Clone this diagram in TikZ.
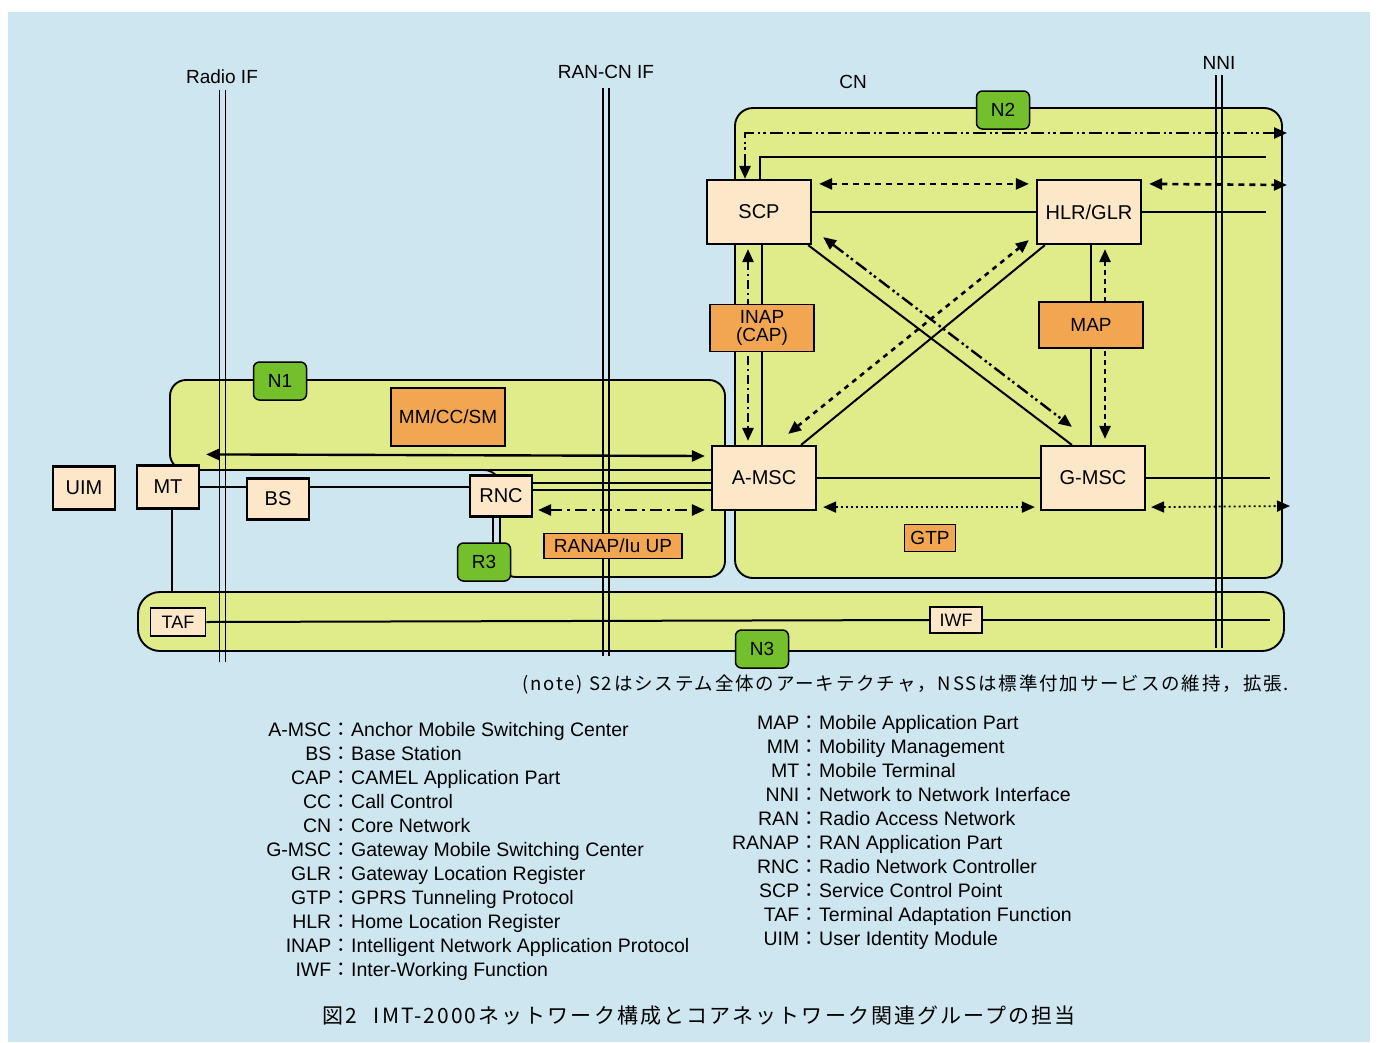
\documentclass[tikz,border=0pt]{standalone}
\usepackage{fontspec}
\setmainfont{Liberation Sans}
\newfontfamily\cjk{Noto Sans CJK JP}
\newfontfamily\cjkwide{Noto Sans CJK JP}[LetterSpace=10]
\usetikzlibrary{arrows.meta,calc}
\pgfdeclarelayer{back}
\pgfdeclarelayer{mid}
\pgfsetlayers{back,mid,main}
\definecolor{bgblue}{HTML}{CDE6F0}
\definecolor{regiong}{HTML}{E0EC8A}
\definecolor{peach}{HTML}{FDE7C9}
\definecolor{orangeb}{HTML}{F2A652}
\definecolor{greenb}{HTML}{74C02C}
\begin{document}
\begin{tikzpicture}[x=1pt,y=-1pt,
 >={Triangle[length=13pt,width=11pt]},
 ent/.style={draw,line width=2.2pt,fill=peach,inner sep=0pt,font=\fontsize{20}{22}\selectfont},
 proto/.style={draw,line width=1.5pt,fill=orangeb,inner sep=0pt,font=\fontsize{19}{18}\selectfont,align=center},
 grp/.style={draw,line width=1.5pt,fill=greenb,rounded corners=6pt,minimum width=53pt,minimum height=38pt,inner sep=0pt,font=\fontsize{19}{21}\selectfont},
 region/.style={draw,line width=1.9pt,fill=regiong,rounded corners=16pt},
 conn/.style={line width=2pt},
 ddot/.style={line width=2.4pt,dash pattern=on 13pt off 4pt on 2.5pt off 3pt on 2.5pt off 4pt},
 dsh/.style={line width=2.6pt,dash pattern=on 6pt off 5pt},
 dotl/.style={line width=1.8pt,dash pattern=on 2pt off 3pt},
 dshdot/.style={line width=2.5pt,dash pattern=on 12pt off 5pt on 3pt off 5pt},
 ifl/.style={line width=1.4pt},
 lbl/.style={font=\fontsize{19}{21}\selectfont,inner sep=0pt},
 leg/.style={font=\fontsize{19.5}{21}\selectfont,inner sep=0pt},
]
\useasboundingbox (0,0) rectangle (1379,1042);

% ---------- nodes ----------
\node[ent,minimum width=104pt,minimum height=64pt] (scp) at (759,212) {SCP};
\node[ent,minimum width=104pt,minimum height=64pt] (hlr) at (1089,212) {HLR/GLR};
\node[ent,minimum width=104pt,minimum height=64pt] (amsc) at (764,478) {A-MSC};
\node[ent,minimum width=104pt,minimum height=64pt] (gmsc) at (1093,478) {G-MSC};
\node[ent,minimum width=62pt,minimum height=43pt] (uim) at (84,488) {UIM};
\node[ent,minimum width=62pt,minimum height=43pt] (mt) at (168,487) {MT};
\node[ent,minimum width=62pt,minimum height=41pt] (bs) at (278,499) {BS};
\node[ent,minimum width=62pt,minimum height=41pt] (rnc) at (501,496) {RNC};
\node[ent,line width=1.7pt,minimum width=55pt,minimum height=28pt,font=\fontsize{18}{20}\selectfont] (taf) at (178,622) {TAF};
\node[ent,line width=1.7pt,minimum width=52pt,minimum height=26pt,font=\fontsize{18}{20}\selectfont] (iwf) at (956,620) {IWF};

\node[proto,minimum width=104pt,minimum height=47pt] (inap) at (762,328) {INAP\\(CAP)};
\node[proto,minimum width=104pt,minimum height=46pt] (map) at (1091,325) {MAP};
\node[proto,minimum width=114pt,minimum height=58pt,line width=2pt] (mmcc) at (448,417) {MM/CC/SM};
\node[proto,minimum width=138pt,minimum height=25pt] (ranap) at (613,546) {RANAP/Iu UP};
\node[proto,minimum width=51pt,minimum height=27pt] (gtp) at (930,538) {GTP};

\node[grp] (n1) at (280,381) {N1};
\node[grp] (n2) at (1003,110) {N2};
\node[grp] (r3) at (484,562) {R3};
\node[grp] (n3) at (762,649) {N3};

% ---------- background and regions ----------
\begin{pgfonlayer}{back}
\fill[white] (0,0) rectangle (1379,1042);
\fill[bgblue] (8,12) rectangle (1370,1042);
\draw[region] (170,470) -- (170,380) -- (725,380) -- (725,577) -- (500,577) -- (500,470) -- cycle;
\draw[region,rounded corners=18pt] (735,108) rectangle (1282,578);
\draw[region,rounded corners=22pt] (138,592) rectangle (1284,651);
\end{pgfonlayer}

% ---------- interface lines, connectors ----------
\begin{pgfonlayer}{mid}
\draw[ifl] (219.5,90) -- (219.5,662);
\draw[ifl] (225.5,90) -- (225.5,662);
\draw[ifl] (603,88) -- (603,656);
\draw[ifl] (609,88) -- (609,656);
\draw[ifl] (1216,75) -- (1216,648);
\draw[ifl] (1222,75) -- (1222,648);

% SCP top links
\coordinate (c1) at (1287,133);
\draw[ddot,<->] ($(scp.north)+(-14,0)$) |- (c1);
\coordinate (c2) at (1266,157);
\draw[conn] ($(scp.north)+(1,0)$) |- (c2);
\draw[dsh,<->] ($(scp.north east)+(7,5)$) -- ($(hlr.north west)+(-7,5)$);
\coordinate (c3) at (1287,185);
\draw[dsh,<->] ($(hlr.north east)+(7,5)$) -- (c3);
\draw[conn] (scp.east) -- (hlr.west);
\coordinate (c4) at (1266,212);
\draw[conn] (hlr.east) -- (c4);

% diagonals
\draw[conn] ($(scp.south east)+(-4,0)$) -- ($(gmsc.north west)+(32,0)$);
\draw[ddot,<->] ($(scp.south east)+(11,-8)$) -- ($(gmsc.north west)+(32,-18)$);
\draw[conn] ($(hlr.south west)+(9,0)$) -- ($(amsc.north east)+(-16,0)$);
\draw[dsh,<->,dash pattern=on 5pt off 5pt] ($(amsc.north east)+(-29,-11)$) -- ($(hlr.south west)+(-7,-5)$);

% verticals
\draw[conn] (map.north) -- (map.north |- hlr.south);
\draw[conn] (map.south) -- (map.south |- gmsc.north);
\draw[dsh,<->,dash pattern=on 5pt off 4pt] ($(hlr.south)+(16,4)$) -- ($(gmsc.north)+(12,-6)$);
\draw[dshdot,<->,dash pattern=on 9pt off 4pt on 2pt off 4pt] ($(scp.south)+(-11,4)$) -- ($(amsc.north)+(-16,-4)$);
\draw[conn] ($(scp.south)+(3,0)$) -- ($(amsc.north)+(-2,0)$);

% MSC links
\draw[conn] (amsc.east) -- (gmsc.west);
\draw[dotl,<->] ($(amsc.south east)+(6,-4)$) -- ($(gmsc.south west)+(-5,-4)$);
\coordinate (c5) at (1270,478);
\draw[conn] (gmsc.east) -- (c5);
\coordinate (c6) at (1290,506);
\draw[dotl,<->] ($(gmsc.south east)+(5,-4)$) -- (c6);

% RAN side
\draw[conn,line width=2.4pt,<->] ($(mt.north east)+(6,-10)$) -- ($(amsc.west)+(-6,-22)$);
\draw[conn] ($(mt.east)+(0,-17)$) -- ($(amsc.west)+(0,-8)$);
\draw[conn] (mt.east) -- (mt.east -| bs.west);
\draw[conn] (bs.east |- mt.east) -- (rnc.west |- mt.east);
\draw[conn] ($(rnc.east)+(0,-13)$) -- ($(amsc.west)+(0,5)$);
\draw[conn] ($(rnc.east)+(0,-6)$) -- ($(amsc.west)+(0,12)$);
\draw[dshdot,<->] ($(rnc.east)+(5,14)$) -- ($(amsc.west)+(-6,32)$);
\draw[conn,line width=1.5pt] ($(rnc.south)+(-8,0)$) -- ($(r3.north)+(9,0)$);
\coordinate (c7) at (172,592);
\draw[conn,line width=1.5pt] ($(mt.south)+(4,0)$) -- (c7);
\draw[conn] (taf.east) -- (iwf.west);
\coordinate (c8) at (1270,620);
\draw[conn] (iwf.east) -- (c8);
\end{pgfonlayer}

% ---------- top labels ----------
\node[lbl] (lradio) at (222,77) {Radio IF};
\node[lbl] (lran) at (606,72) {RAN-CN IF};
\node[lbl] (lcn) at (853,82) {CN};
\node[lbl] (lnni) at (1219,63) {NNI};

% ---------- note ----------
\node[anchor=base west,inner sep=0pt,font=\fontsize{18.5}{20}\selectfont] (note) at (522,690) {\cjkwide (note) S2はシステム全体のアーキテクチャ，NSSは標準付加サービスの維持，拡張.};

% ---------- legend ----------
\foreach \ab/\txt [count=\i] in {A-MSC/Anchor Mobile Switching Center, BS/Base Station, CAP/CAMEL Application Part, CC/Call Control, CN/Core Network, G-MSC/Gateway Mobile Switching Center, GLR/Gateway Location Register, GTP/GPRS Tunneling Protocol, HLR/Home Location Register, INAP/Intelligent Network Application Protocol, IWF/Inter-Working Function} {
  \node[leg,anchor=base east] (la\i) at (351,{736+24*(\i-1)}) {\ab\cjk：};
  \node[leg,anchor=base west] (lb\i) at (351,{736+24*(\i-1)}) {\txt};
}
\foreach \ab/\txt [count=\i] in {MAP/Mobile Application Part, MM/Mobility Management, MT/Mobile Terminal, NNI/Network to Network Interface, RAN/Radio Access Network, RANAP/RAN Application Part, RNC/Radio Network Controller, SCP/Service Control Point, TAF/Terminal Adaptation Function, UIM/User Identity Module} {
  \node[leg,anchor=base east] (ra\i) at (819,{729+24.1*(\i-1)}) {\ab\cjk：};
  \node[leg,anchor=base west] (rb\i) at (819,{729+24.1*(\i-1)}) {\txt};
}

% ---------- caption ----------
\node[anchor=base west,inner sep=0pt,font=\fontsize{21}{23}\selectfont] (cap) at (322,1023) {\cjkwide 図2\hspace{0.8em}IMT-2000ネットワーク構成とコアネットワーク関連グループの担当};
\end{tikzpicture}
\end{document}
